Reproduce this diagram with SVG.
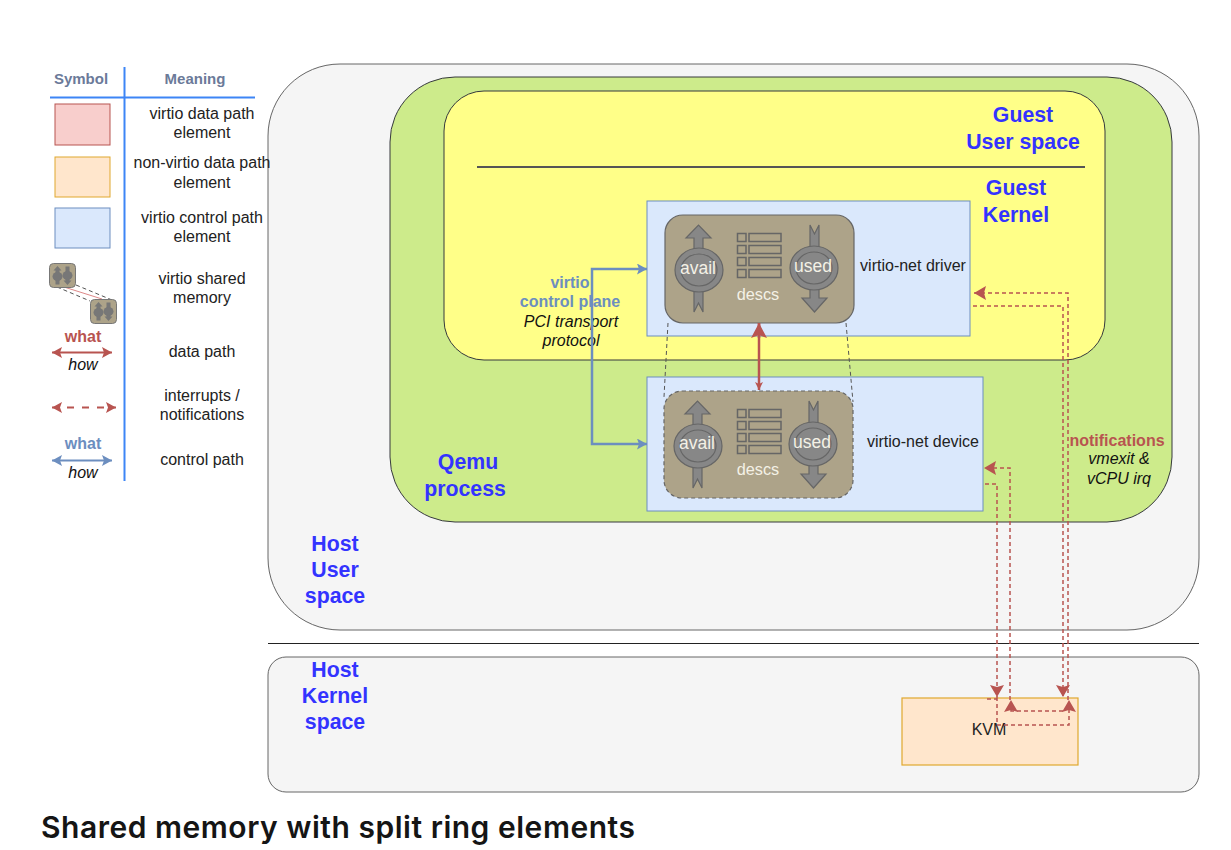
<svg xmlns="http://www.w3.org/2000/svg" xmlns:xlink="http://www.w3.org/1999/xlink" width="1231" height="850" viewBox="0 0 1231 850">
<style>
text{font-family:"Liberation Sans",Arial,sans-serif;text-anchor:middle}
.t{font-size:16px;fill:#222}
.h{font-size:15px;font-weight:bold;fill:#6b7a99}
.b{font-size:21.300px;font-weight:bold;fill:#3333ff}
.r{font-size:16px;font-weight:bold;fill:#b85450}
.c{font-size:16px;font-weight:bold;fill:#6c8ebf}
.i{font-size:16px;font-style:italic;fill:#111}
.w{font-size:17.500px;fill:#f4f1e6}
.d{font-size:16.300px;fill:#f4f1e6}
.sym{fill:#878787;stroke:#666;stroke-width:1.2}
.n{stroke:#b85450;stroke-width:1.5;stroke-dasharray:4 3;fill:none}
.blk{stroke:#555;stroke-width:1;stroke-dasharray:4 3;fill:none}
.ctl{stroke:#6c8ebf;stroke-width:2.5;fill:none}
.dat{stroke:#b85450;stroke-width:2.5;fill:none}
.cell{fill:none;stroke:#666;stroke-width:1.5}
</style>
<defs>
<marker id="an" markerUnits="userSpaceOnUse" markerWidth="13" markerHeight="14" refX="12" refY="7" orient="auto"><path d="M0,0L12,7L0,14L2,7Z" fill="#b85450"/></marker>
<marker id="ac" markerUnits="userSpaceOnUse" markerWidth="11" markerHeight="11" refX="10" refY="5.500" orient="auto-start-reverse"><path d="M0,0L10,5.500L0,11L2,5.500Z" fill="#6c8ebf"/></marker>
<marker id="ad" markerUnits="userSpaceOnUse" markerWidth="11" markerHeight="11" refX="10" refY="5.500" orient="auto-start-reverse"><path d="M0,0L10,5.500L0,11L2,5.500Z" fill="#b85450"/></marker>
<marker id="adb" markerUnits="userSpaceOnUse" markerWidth="17" markerHeight="16" refX="15" refY="8" orient="auto"><path d="M0,0L15,8L0,16L3,8Z" fill="#b85450"/></marker>
<marker id="ads" markerUnits="userSpaceOnUse" markerWidth="9" markerHeight="9" refX="8" refY="4" orient="auto"><path d="M0,0L8,4L0,8L2,4Z" fill="#b85450"/></marker>
<g id="ringicon">
<path class="sym" d="M694,312V268H703V312L698.500,303ZM686,238L698.500,225L711,238H703V250H694V238Z"/>
<ellipse class="sym" cx="699" cy="270" rx="24" ry="22"/>
<ellipse class="sym" cx="699" cy="270" rx="18" ry="16"/>
<path class="sym" d="M810,225L814.500,234L819,225V298H827L814.500,312L802,298H810Z"/>
<ellipse class="sym" cx="814" cy="268" rx="24" ry="22"/>
<ellipse class="sym" cx="814" cy="268" rx="18" ry="16"/>
</g>
<g id="cells">
<rect class="cell" x="737.500" y="233.500" width="8.500" height="8"/><rect class="cell" x="749" y="233.500" width="32" height="8"/>
<rect class="cell" x="737.500" y="245.500" width="8.500" height="8"/><rect class="cell" x="749" y="245.500" width="32" height="8"/>
<rect class="cell" x="737.500" y="257.500" width="8.500" height="8"/><rect class="cell" x="749" y="257.500" width="32" height="8"/>
<rect class="cell" x="737.500" y="269.500" width="8.500" height="8"/><rect class="cell" x="749" y="269.500" width="32" height="8"/>
</g>
<g id="mini">
<rect x="0" y="0" width="26" height="24" rx="4" fill="#ada389" stroke="#777" stroke-width="1"/>
<path d="M8,2.500L12,7H10V21H6V7H4ZM18,21.500L14,17H16V3H20V17H22Z" fill="#777"/>
<ellipse cx="8" cy="13" rx="5" ry="4.500" fill="#777"/>
<ellipse cx="18" cy="12" rx="5" ry="4.500" fill="#777"/>
</g>
</defs>
<rect width="1231" height="850" fill="#fff"/>

<g id="host-user"><rect x="268" y="64" width="931" height="566" rx="72" fill="#f5f5f5" stroke="#666" stroke-width="1"/>
<text class="b" x="335" y="551">Host</text><text class="b" x="335" y="577">User</text><text class="b" x="335" y="603">space</text></g>
<g id="divider"><path d="M268,643.500H1199" stroke="#222" stroke-width="1"/></g>
<g id="host-kernel"><rect x="268" y="657" width="931" height="135" rx="18" fill="#f5f5f5" stroke="#666" stroke-width="1"/>
<text class="b" x="335" y="677">Host</text><text class="b" x="335" y="703">Kernel</text><text class="b" x="335" y="729">space</text></g>
<g id="qemu"><rect x="390" y="77" width="782" height="445" rx="65" fill="#cdeb8b" stroke="#36393d" stroke-width="1"/>
<text class="b" x="468" y="469">Qemu</text><text class="b" x="465" y="496">process</text></g>
<g id="guest"><rect x="444" y="91" width="661" height="269" rx="40" fill="#ffff88" stroke="#36393d" stroke-width="1"/>
<path d="M477,167H1085" stroke="#555" stroke-width="2"/>
<text class="b" x="1023" y="122">Guest</text><text class="b" x="1023" y="149">User space</text>
<text class="b" x="1016" y="195">Guest</text><text class="b" x="1016" y="222">Kernel</text></g>
<g id="cp-label"><text class="c" x="570" y="288">virtio</text><text class="c" x="570" y="307">control plane</text>
<text class="i" x="571" y="327">PCI transport</text><text class="i" x="571" y="346">protocol</text></g>
<g id="driver"><rect x="647" y="201" width="323" height="135" fill="#dae8fc" stroke="#6c8ebf" stroke-width="1"/>
<text class="t" x="913" y="271">virtio-net driver</text></g>
<g id="device"><rect x="647" y="377" width="336" height="134" fill="#dae8fc" stroke="#6c8ebf" stroke-width="1"/>
<text class="t" x="923" y="447">virtio-net device</text></g>
<g id="driver-ring"><rect x="665" y="215" width="189" height="108" rx="18" fill="#ada389" stroke="#666" stroke-width="1.2"/>
<use xlink:href="#ringicon"/><use xlink:href="#cells"/>
<text class="w" x="698" y="274">avail</text><text class="w" x="813" y="272">used</text><text class="d" x="758" y="300">descs</text></g>
<g id="device-ring"><rect x="664" y="391" width="189" height="107" rx="18" fill="#ada389" stroke="#666" stroke-width="1.2" stroke-dasharray="4 3"/>
<use xlink:href="#ringicon" transform="translate(-1,176)"/><use xlink:href="#cells" transform="translate(0,176)"/>
<text class="w" x="697" y="449">avail</text><text class="w" x="812" y="448">used</text><text class="d" x="758" y="475">descs</text></g>
<g id="kvm"><rect x="902" y="698" width="176" height="67" fill="#ffe6cc" stroke="#e0a82e" stroke-width="1.2"/>
<text class="t" x="989" y="735">KVM</text></g>
<g id="notif-label"><text class="r" x="1117" y="446">notifications</text><text class="i" x="1119" y="464">vmexit &amp;</text><text class="i" x="1119" y="484">vCPU irq</text></g>

<g id="connectors">
<path class="ctl" d="M647,269H592V444H647" marker-start="url(#ac)" marker-end="url(#ac)"/>
<path class="dat" d="M759,323V390" marker-end="url(#ads)"/>
<path d="M759,338V323" class="dat" marker-end="url(#adb)"/>
<path class="blk" d="M668,323L664,397"/><path class="blk" d="M846,323L853,402"/>
<path class="n" d="M973,306H1063V697" marker-end="url(#an)"/>
<path class="n" d="M1068,700V293H974" marker-end="url(#an)"/>
<path class="n" d="M985,484H997V697" marker-end="url(#an)"/>
<path class="n" d="M1010,700V468H984" marker-end="url(#an)"/>
<path class="n" d="M1063,711H1011V700" marker-end="url(#an)"/>
<path class="n" d="M997,697V725H1069V700" marker-end="url(#an)"/>
<path class="n" d="M987,699H997"/>
</g>

<g id="legend">
<path d="M124.500,67V481M50,97.500H255" stroke="#3d85f6" stroke-width="2" fill="none"/>
<text class="h" x="81" y="84">Symbol</text><text class="h" x="195" y="84">Meaning</text>
<rect x="55" y="104" width="55" height="41" fill="#f8cecc" stroke="#b85450"/>
<rect x="55" y="157" width="55" height="40" fill="#ffe6cc" stroke="#e0a82e"/>
<rect x="55" y="208" width="55" height="40" fill="#dae8fc" stroke="#6c8ebf"/>
<text class="t" x="202" y="119">virtio data path</text><text class="t" x="202" y="138">element</text>
<text class="t" x="202" y="168">non-virtio data path</text><text class="t" x="202" y="188">element</text>
<text class="t" x="202" y="223">virtio control path</text><text class="t" x="202" y="242">element</text>
<text class="t" x="202" y="284">virtio shared</text><text class="t" x="202" y="303">memory</text>
<text class="t" x="202" y="357">data path</text>
<text class="t" x="202" y="401">interrupts /</text><text class="t" x="202" y="420">notifications</text>
<text class="t" x="202" y="465">control path</text>
<path d="M57,287L90,301M76,285L112,300" class="blk"/><path d="M64,287L102,299" stroke="#d88" stroke-width="1"/>
<use xlink:href="#mini" transform="translate(49.500,263.500)"/><use xlink:href="#mini" transform="translate(90.500,299.500)"/>
<text class="r" x="83" y="342">what</text>
<path d="M52,352.500H112" stroke="#b85450" stroke-width="2" marker-start="url(#ad)" marker-end="url(#ad)"/>
<text class="i" x="83" y="370">how</text>
<path d="M52,407.500H116" class="n" style="stroke-width:2;stroke-dasharray:7 8" marker-end="url(#ad)" marker-start="url(#ad)"/>
<text class="c" x="83" y="449">what</text>
<path d="M52,460.500H112" stroke="#6c8ebf" stroke-width="2" marker-start="url(#ac)" marker-end="url(#ac)"/>
<text class="i" x="83" y="478">how</text>
</g>
<g id="title"><text x="41" y="838" style="text-anchor:start;font-family:Inter,'Open Sans',sans-serif;font-weight:600;font-size:30px;letter-spacing:.52px;fill:#151515">Shared memory with split ring elements</text></g>
</svg>
